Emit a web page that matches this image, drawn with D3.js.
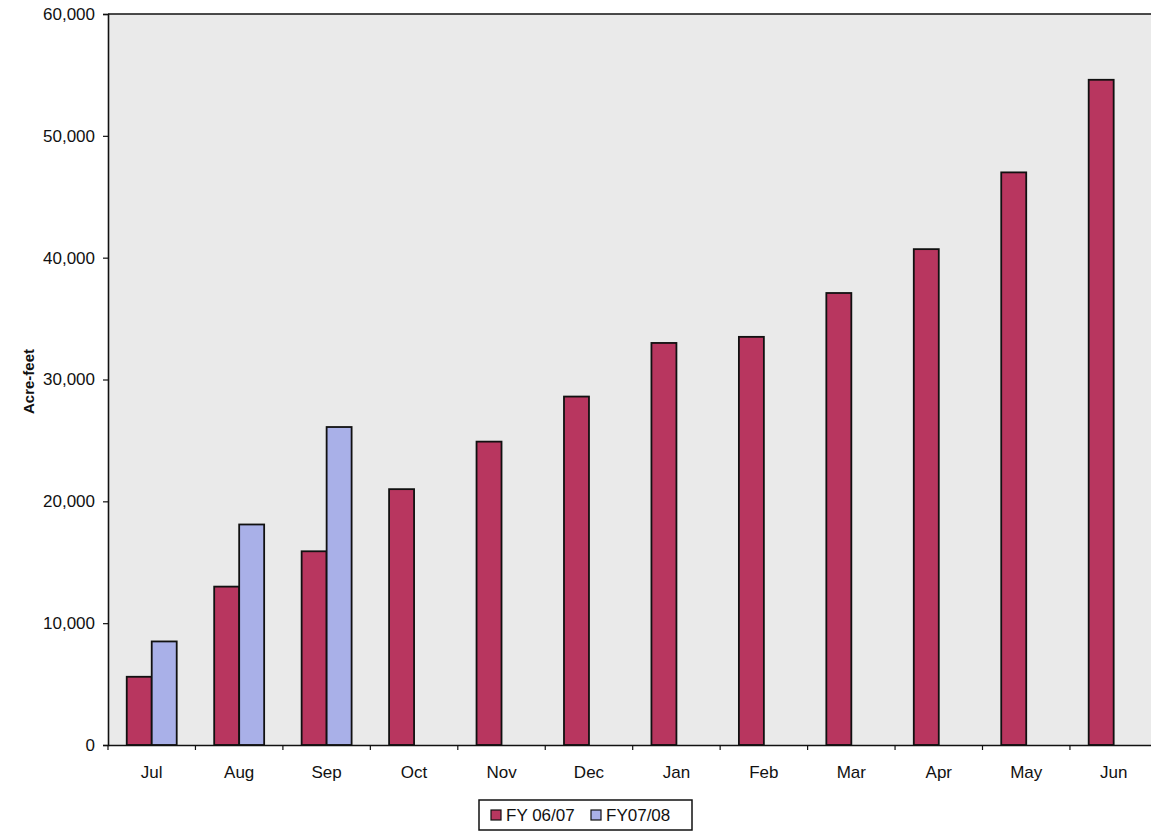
<!DOCTYPE html>
<html>
<head>
<meta charset="utf-8">
<script src="https://cdn.jsdelivr.net/npm/d3@7"></script>
<style>
  html, body { margin: 0; padding: 0; background: #ffffff; }
  svg { display: block; }
  text { font-family: "Liberation Sans", Arial, Helvetica, sans-serif; fill: #111; }
</style>
</head>
<body>
<svg id="chart" width="1151" height="835"></svg>
<script>
// ---- data ----
const months = ["Jul", "Aug", "Sep", "Oct", "Nov", "Dec", "Jan", "Feb", "Mar", "Apr", "May", "Jun"];
const seriesNames = ["FY 06/07", "FY07/08"];
const fy0607 = [5600, 13000, 15900, 21000, 24900, 28600, 33000, 33500, 37100, 40700, 47000, 54600];
const fy0708 = [8500, 18100, 26100, null, null, null, null, null, null, null, null, null];
const yTicks = [0, 10000, 20000, 30000, 40000, 50000, 60000];
const yLabel = "Acre-feet";
const colors = ["#b8365f", "#a9b0e8"];

// ---- layout ----
const svg = d3.select("#chart");
const mLeft = 108, mTop = 14, mBottom = 745, mRight = 1157.4;

const x = d3.scaleBand().domain(months).range([mLeft, mRight]).paddingInner(0).paddingOuter(0);
const y = d3.scaleLinear().domain([0, 60000]).range([mBottom, mTop]);
const barW = x.bandwidth() / 3.5;
const x1 = d3.scaleBand().domain(seriesNames).range([0, 2 * barW]).padding(0);
const groupOffset = (x.bandwidth() - 2 * barW) / 2;

// plot background
svg.append("rect")
  .attr("x", mLeft).attr("y", mTop)
  .attr("width", mRight - mLeft).attr("height", mBottom - mTop)
  .attr("fill", "#eaeaea");

// top border
svg.append("line")
  .attr("x1", mLeft).attr("x2", mRight).attr("y1", mTop).attr("y2", mTop)
  .attr("stroke", "#111").attr("stroke-width", 1.6);

// bars
const seriesData = [fy0607, fy0708];
const groups = svg.append("g");
seriesData.forEach((vals, si) => {
  groups.selectAll(".bar" + si)
    .data(months.map((m, i) => ({ m, v: vals[i] })).filter(d => d.v != null))
    .join("rect")
    .attr("class", "bar" + si)
    .attr("x", d => x(d.m) + groupOffset + x1(seriesNames[si]))
    .attr("y", d => y(d.v))
    .attr("width", barW)
    .attr("height", d => y(0) - y(d.v))
    .attr("fill", colors[si])
    .attr("stroke", "#111")
    .attr("stroke-width", 1.8);
});

// y axis
const yAxis = d3.axisLeft(y).tickValues(yTicks).tickSize(5).tickPadding(8)
  .tickFormat(d3.format(","));
const gy = svg.append("g").attr("transform", `translate(${mLeft},0)`).call(yAxis);
gy.select(".domain").attr("stroke", "#111").attr("stroke-width", 1.6);
gy.selectAll(".tick line").attr("stroke", "#111").attr("stroke-width", 1.2);
gy.selectAll(".tick text").attr("font-size", 17).attr("fill", "#111")
  .attr("font-family", "Liberation Sans, Arial, sans-serif");

// x axis
const xAxis = d3.axisBottom(x).tickSize(0).tickPadding(21);
const gx = svg.append("g").attr("transform", `translate(0,${mBottom})`).call(xAxis);
gx.select(".domain").attr("stroke", "#111").attr("stroke-width", 1.6);
gx.selectAll(".tick text").attr("font-size", 17).attr("fill", "#111")
  .attr("font-family", "Liberation Sans, Arial, sans-serif");
// tick marks at category boundaries
gx.selectAll(".bnd")
  .data(months.slice(1).map(m => x(m)).concat([mLeft]))
  .join("line")
  .attr("class", "bnd")
  .attr("x1", d => d).attr("x2", d => d)
  .attr("y1", 0).attr("y2", 5)
  .attr("stroke", "#111").attr("stroke-width", 1.2);

// y label
svg.append("text")
  .attr("transform", `translate(34,${(mTop + mBottom) / 2 + 2}) rotate(-90)`)
  .attr("text-anchor", "middle")
  .attr("font-size", 15)
  .attr("font-weight", "bold")
  .text(yLabel);

// legend
const lg = svg.append("g");
const lx = 479, ly = 800, lw = 213, lh = 30;
lg.append("rect").attr("x", lx).attr("y", ly).attr("width", lw).attr("height", lh)
  .attr("fill", "#fff").attr("stroke", "#111").attr("stroke-width", 1.5);
const legendX = [lx + 12, lx + 112];
seriesNames.forEach((s, i) => {
  lg.append("rect").attr("x", legendX[i]).attr("y", ly + lh / 2 - 5).attr("width", 10).attr("height", 10)
    .attr("fill", colors[i]).attr("stroke", "#111").attr("stroke-width", 1.2);
  lg.append("text").attr("x", legendX[i] + 15).attr("y", ly + lh / 2 + 6)
    .attr("font-size", 17).text(s);
});
</script>
</body>
</html>
